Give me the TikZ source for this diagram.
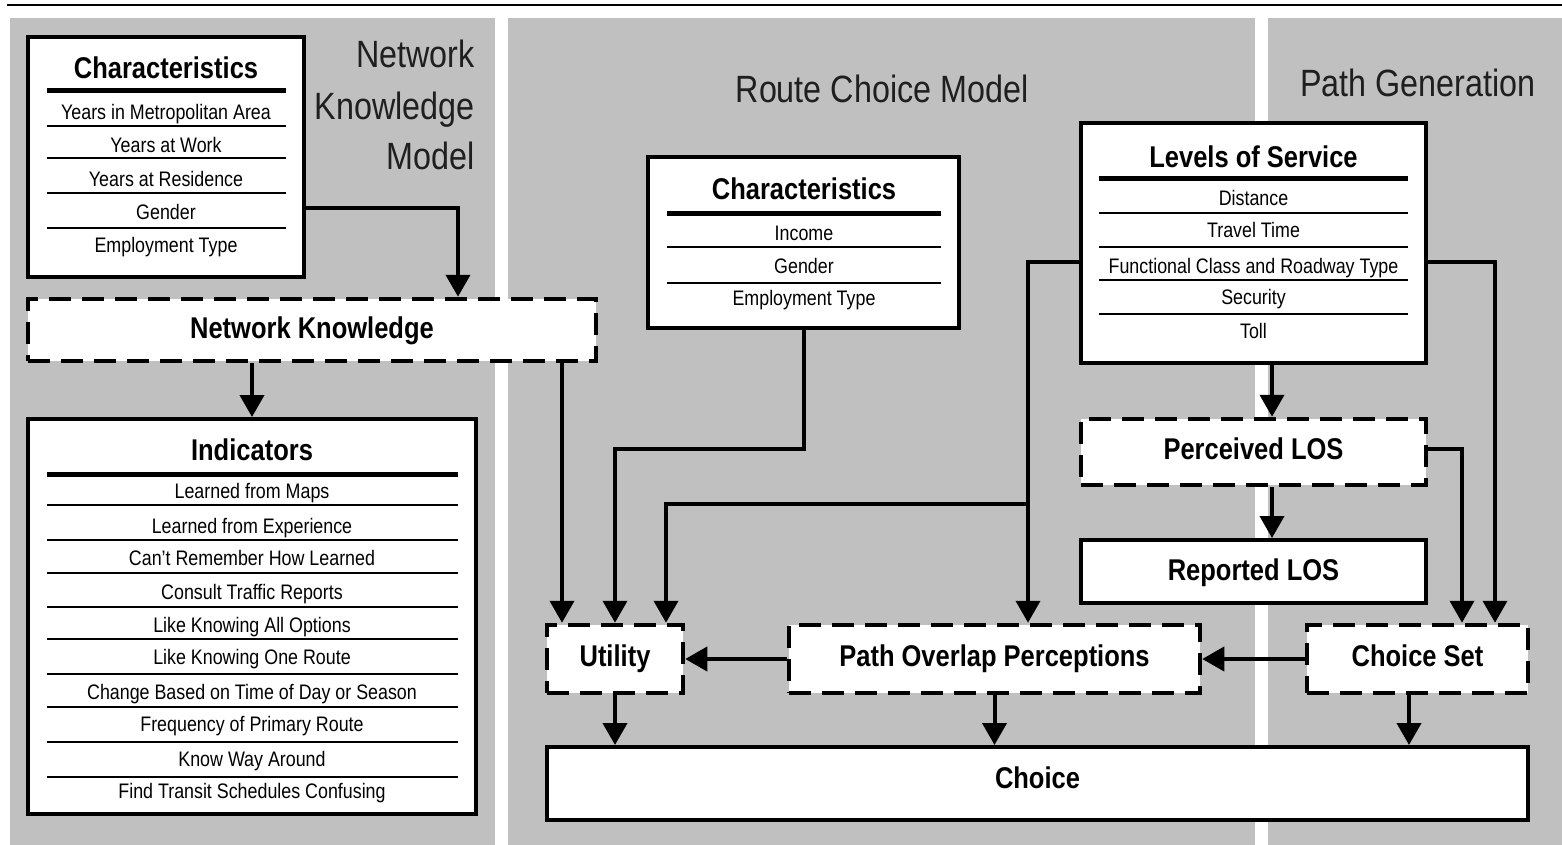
\documentclass[tikz,border=0pt]{standalone}
\usepackage{fontspec}
\setmainfont[FakeStretch=0.85]{Liberation Sans}
\usetikzlibrary{arrows.meta}
\definecolor{panelgray}{HTML}{C0C0C0}
\begin{document}
\begin{tikzpicture}[x=1pt,y=-1pt,
  box/.style={draw, line width=4pt, fill=white, inner sep=0pt},
  dbox/.style={box, line width=4.5pt, dash pattern=on 22pt off 11pt},
  arr/.style={line width=4pt, -{Triangle[width=24pt,length=22pt]}},
  boxtitle/.style={font=\fontsize{30}{32}\selectfont\bfseries, inner sep=0pt, text height=21.5pt, text depth=0pt},
  item/.style={font=\fontsize{21}{23}\selectfont, inner sep=0pt, text height=15pt, text depth=0pt},
  sect/.style={font=\fontsize{38}{40}\selectfont, inner sep=0pt, text height=27pt, text depth=0pt, text=black!88},
  thickrule/.style={line width=5pt},
  thinrule/.style={line width=2pt}]
\useasboundingbox (0,0) rectangle (1562,845);
% top rule
\draw[line width=2.5pt] (7,5) -- (1562,5);
% panels
\fill[panelgray] (10,18) rectangle (495,845);
\fill[panelgray] (508,18) rectangle (1255,845);
\fill[panelgray] (1268,18) rectangle (1562,845);

% section titles
\node[sect, anchor=east] (s1a) at (475,54) {Network};
\node[sect, anchor=east] (s1b) at (475,106) {Knowledge};
\node[sect, anchor=east] (s1c) at (475,156) {Model};
\node[sect] (s2) at (882,89) {Route Choice Model};
\node[sect] (s3) at (1418,83) {Path Generation};

% boxes
\node[box, minimum width=276pt, minimum height=240pt] (c1) at (166,157) {};
\node[dbox, minimum width=568pt, minimum height=62pt] (nk) at (312,330) {};
\node[box, minimum width=448pt, minimum height=395pt] (ind) at (252,616.5) {};
\node[box, minimum width=311pt, minimum height=171pt] (c2) at (803.5,242.5) {};
\node[box, minimum width=345pt, minimum height=240pt] (los) at (1253.5,243) {};
\node[dbox, minimum width=345pt, minimum height=66pt] (plos) at (1253.5,452) {};
\node[box, minimum width=345pt, minimum height=63pt] (rlos) at (1253.5,571.5) {};
\node[dbox, minimum width=136pt, minimum height=68pt] (util) at (615,659) {};
\node[dbox, minimum width=411pt, minimum height=68pt] (pop) at (994.5,659) {};
\node[dbox, minimum width=221pt, minimum height=68pt] (cs) at (1417.5,659) {};
\node[box, minimum width=981pt, minimum height=73pt] (choice) at (1037.5,783.5) {};

% characteristics (network knowledge)
\node[boxtitle] (c1t) at (166,68) {Characteristics};
\draw[thickrule] (47,91) -- (286,91);
\foreach \yy in {126,158,193,228} \draw[thinrule] (47,\yy) -- (286,\yy);
\node[item] (c1a) at (166,112) {Years in Metropolitan Area};
\node[item] (c1b) at (166,145) {Years at Work};
\node[item] (c1c) at (166,179) {Years at Residence};
\node[item] (c1d) at (166,212) {Gender};
\node[item] (c1e) at (166,245) {Employment Type};

% network knowledge
\node[boxtitle] (nkt) at (312,328) {Network Knowledge};

% indicators
\node[boxtitle] (indt) at (252,450) {Indicators};
\draw[thickrule] (47,474) -- (458,474);
\foreach \yy in {505,540,573,607,639,674,707,742,777} \draw[thinrule] (47,\yy) -- (458,\yy);
\node[item] (i1) at (252,491) {Learned from Maps};
\node[item] (i2) at (252,526) {Learned from Experience};
\node[item] (i3) at (252,558) {Can’t Remember How Learned};
\node[item] (i4) at (252,592) {Consult Traffic Reports};
\node[item] (i5) at (252,625) {Like Knowing All Options};
\node[item] (i6) at (252,657) {Like Knowing One Route};
\node[item] (i7) at (252,692) {Change Based on Time of Day or Season};
\node[item] (i8) at (252,724) {Frequency of Primary Route};
\node[item] (i9) at (252,759) {Know Way Around};
\node[item] (i10) at (252,791) {Find Transit Schedules Confusing};

% characteristics (route choice)
\node[boxtitle] (c2t) at (804,189) {Characteristics};
\draw[thickrule] (667,213) -- (941,213);
\foreach \yy in {247,283} \draw[thinrule] (667,\yy) -- (941,\yy);
\node[item] (c2a) at (804,233) {Income};
\node[item] (c2b) at (804,266) {Gender};
\node[item] (c2c) at (804,298) {Employment Type};

% levels of service
\node[boxtitle] (lost) at (1253.5,157) {Levels of Service};
\draw[thickrule] (1099,179) -- (1408,179);
\foreach \yy in {213,247,280,314} \draw[thinrule] (1099,\yy) -- (1408,\yy);
\node[item] (l1) at (1253.5,198) {Distance};
\node[item] (l2) at (1253.5,230) {Travel Time};
\node[item] (l3) at (1253.5,266) {Functional Class and Roadway Type};
\node[item] (l4) at (1253.5,297) {Security};
\node[item] (l5) at (1253.5,331) {Toll};

% simple box labels
\node[boxtitle] (plost) at (1253.5,449) {Perceived LOS};
\node[boxtitle] (rlost) at (1253.5,570) {Reported LOS};
\node[boxtitle] (utilt) at (615,656) {Utility};
\node[boxtitle] (popt) at (994.5,656) {Path Overlap Perceptions};
\node[boxtitle] (cst) at (1417.5,656) {Choice Set};
\node[boxtitle] (choicet) at (1037.5,778) {Choice};

% helper coordinates
\coordinate (y208) at (0,208);
\coordinate (x458) at (458,0);
\coordinate (x562) at (562,0);
\coordinate (y449) at (0,449);
\coordinate (y262) at (0,262);
\coordinate (x1028) at (1028,0);
\coordinate (y504) at (0,504);
\coordinate (x666) at (666,0);
\coordinate (x1495) at (1495,0);
\coordinate (x1272) at (1272,0);
\coordinate (x1462) at (1462,0);
\coordinate (x1409) at (1409,0);

% connectors
\draw[arr] (c1.east |- y208) -| (x458 |- nk.north);
\draw[arr] (ind.north |- nk.south) -- (ind.north);
\draw[arr] (x562 |- nk.south) -- (x562 |- util.north);
\draw[arr] (c2.south) -- (c2.south |- y449) -| (util.north);
\draw[arr] (los.west |- y262) -| (x1028 |- pop.north);
\draw[arr] (x1028 |- y504) -| (x666 |- util.north);
\draw[arr] (los.east |- y262) -| (x1495 |- cs.north);
\draw[arr] (x1272 |- los.south) -- (x1272 |- plos.north);
\draw[arr] (x1272 |- plos.south) -- (x1272 |- rlos.north);
\draw[arr] (plos.east |- y449) -| (x1462 |- cs.north);
\draw[arr] (cs.west) -- (pop.east);
\draw[arr] (pop.west) -- (util.east);
\draw[arr] (util.south) -- (util.south |- choice.north);
\draw[arr] (pop.south) -- (pop.south |- choice.north);
\draw[arr] (x1409 |- cs.south) -- (x1409 |- choice.north);
\end{tikzpicture}
\end{document}
